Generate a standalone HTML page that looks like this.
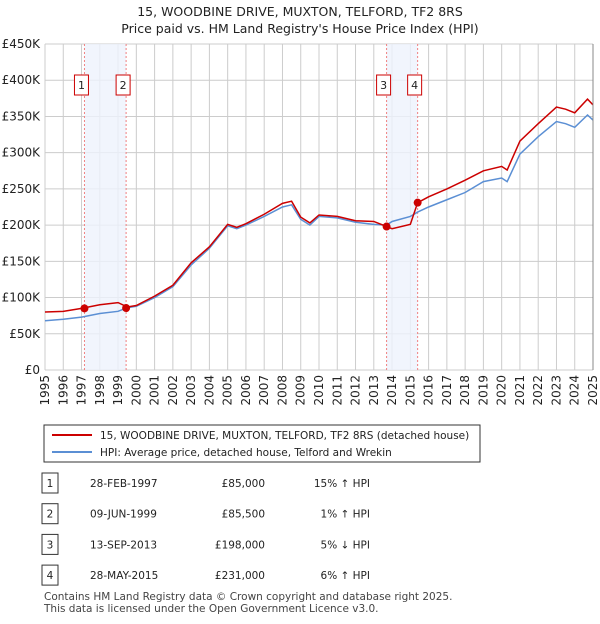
<!DOCTYPE html>
<html><head><meta charset="utf-8"><style>
body{margin:0;background:#fff;font-family:"DejaVu Sans","Liberation Sans",sans-serif;}
#wrap{position:relative;width:600px;height:620px;}
svg text{font-family:"DejaVu Sans","Liberation Sans",sans-serif;}
</style></head><body><div id="wrap">
<svg id="svg" width="600" height="620" xmlns="http://www.w3.org/2000/svg">
<text x="300" y="16" text-anchor="middle" font-size="12.5" fill="#222">15, WOODBINE DRIVE, MUXTON, TELFORD, TF2 8RS</text>
<text x="300" y="33" text-anchor="middle" font-size="12.5" fill="#222">Price paid vs. HM Land Registry's House Price Index (HPI)</text>
<g id="grid"></g><g id="bands"></g><g id="lines"></g><g id="marks"></g><g id="axes"></g>
<rect x="44" y="425" width="436" height="37" fill="#fff" stroke="#333"/>
<line x1="52" y1="435" x2="92" y2="435" stroke="#cc0000" stroke-width="2"/>
<text x="100" y="439" font-size="10.5" fill="#222">15, WOODBINE DRIVE, MUXTON, TELFORD, TF2 8RS (detached house)</text>
<line x1="52" y1="452" x2="92" y2="452" stroke="#5b8fd4" stroke-width="2"/>
<text x="100" y="456" font-size="10.5" fill="#222">HPI: Average price, detached house, Telford and Wrekin</text>
<g id="table" font-size="10.5" fill="#222"></g>
<text x="44" y="600" font-size="10.5" fill="#444">Contains HM Land Registry data © Crown copyright and database right 2025.</text>
<text x="44" y="612" font-size="10.5" fill="#444">This data is licensed under the Open Government Licence v3.0.</text>
</svg></div>
<script>
const years=[1995,1996,1997,1998,1999,1999.5,2000,2001,2002,2003,2004,2005,2005.5,2006,2007,2008,2008.5,2009,2009.5,2010,2011,2012,2013,2013.7,2014,2015,2015.4,2016,2017,2018,2019,2020,2020.3,2021,2022,2023,2023.5,2024,2024.7,2025];
const hpi=[68,70,73,78,81,86,88,100,115,145,168,199,195,200,212,225,228,208,200,212,210,204,201,200,205,212,218,225,235,245,260,265,260,298,322,343,340,335,352,345];
const price=[80,81,85,90,93,87,89,102,117,148,170,201,197,202,215,230,233,211,203,214,212,206,205,198,195,201,231,239,250,262,275,281,276,316,340,363,360,355,374,366];
const saleDates=[1997.16,1999.44,2013.7,2015.4];
const salePrices=[85,85.5,198,231];
const saleLabels=["1","2","3","4"];
const saleDateText=["28-FEB-1997","09-JUN-1999","13-SEP-2013","28-MAY-2015"];
const salePriceText=["£85,000","£85,500","£198,000","£231,000"];
const saleHpiText=["15% ↑ HPI","1% ↑ HPI","5% ↓ HPI","6% ↑ HPI"];
const yTicks=[0,50,100,150,200,250,300,350,400,450];
const NS="http://www.w3.org/2000/svg";
const X0=45,X1=593,Y0=370,Y1=44;
const xs=y=>X0+(y-1995)/30*(X1-X0);
const ys=v=>Y0-v/450*(Y0-Y1);
function mk(p,tag,a){const e=document.createElementNS(NS,tag);for(const k in a)e.setAttribute(k,a[k]);document.getElementById(p).appendChild(e);return e;}
for(const v of yTicks){
 const l=mk('grid','line',{x1:X0,x2:X1,y1:ys(v),y2:ys(v),stroke:'#ccc'});
 
 
 const t=mk('axes','text',{x:40,y:ys(v)+4,'text-anchor':'end','font-size':12,fill:'#222'});
 t.textContent=v==0?'£0':'£'+v+'K';
 
 
}
for(let y=1995;y<=2025;y++){
 const l=mk('grid','line',{x1:xs(y),x2:xs(y),y1:Y1,y2:Y0,stroke:'#ccc'});
 
 
 const t=mk('axes','text',{x:0,y:0,'text-anchor':'end','font-size':12,fill:'#222',transform:`translate(${xs(y)+4},375) rotate(-90)`});
 t.textContent=y;
 
 
}
const bandPairs=[[0,1],[2,3]];
for(const [a,b] of bandPairs){
 const r=mk('bands','rect',{x:xs(saleDates[a]),y:Y1,width:xs(saleDates[b])-xs(saleDates[a]),height:Y0-Y1,fill:'#eef3fc',opacity:0.8});
 
 
}
saleDates.forEach((d,i)=>{
 const l=mk('bands','line',{x1:xs(d),x2:xs(d),y1:Y1,y2:Y0,stroke:'#f08080','stroke-dasharray':'2,2'});
 
 
 const r=mk('marks','rect',{x:xs(d)-10,y:75,width:14,height:20,fill:'#fff',stroke:'#cc0000'});
 
 
 const t=mk('marks','text',{x:xs(d)-3,y:89,'text-anchor':'middle','font-size':11,fill:'#222'});
 t.textContent=saleLabels[i];
 
 
});
const hp=mk('lines','polyline',{points:years.map((y,i)=>xs(y)+','+ys(hpi[i])).join(' '),fill:'none',stroke:'#5b8fd4','stroke-width':1.5});


const pp=mk('lines','polyline',{points:years.map((y,i)=>xs(y)+','+ys(price[i])).join(' '),fill:'none',stroke:'#cc0000','stroke-width':1.5});


saleDates.forEach((d,i)=>{
 const c=mk('marks','circle',{cx:xs(d),cy:ys(salePrices[i]),r:4,fill:'#cc0000'});
 
 
});
const ax=mk('axes','line',{x1:X1,x2:X1,y1:Y1,y2:Y0,stroke:'#888'});


saleLabels.forEach((s,i)=>{
 const y=483+i*30.7;
 const r=mk('table','rect',{x:42,y:y-10,width:16,height:20,fill:'#fff',stroke:'#333'});
 
 
 const cells=[[50,s,'middle'],[90,saleDateText[i],'start'],[265,salePriceText[i],'end'],[370,saleHpiText[i],'end']];
 for(const [x,txt,an] of cells){
  const t=mk('table','text',{x:x,y:y+4,'text-anchor':an});
  t.textContent=txt;
  
  
 }
});
</script></body></html>
